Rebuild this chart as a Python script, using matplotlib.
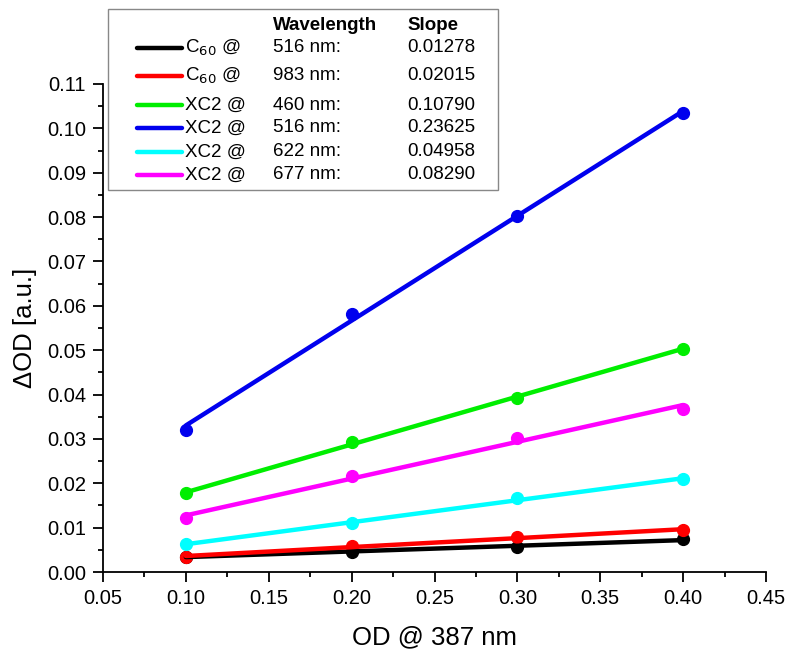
import numpy as np
import matplotlib.pyplot as plt
from matplotlib.lines import Line2D
from matplotlib.patches import Rectangle
from matplotlib.ticker import MultipleLocator, FormatStrFormatter

plt.rcParams['font.family'] = ['Liberation Sans', 'DejaVu Sans']

# OD of the pump at 387 nm
od = [0.1, 0.2, 0.3, 0.4]

# measured ΔOD for each probe wavelength
c60_516 = [0.0034, 0.0046, 0.0057, 0.0074]
c60_983 = [0.0033, 0.0059, 0.0078, 0.0095]
xc2_460 = [0.0178, 0.0292, 0.0393, 0.0503]
xc2_516 = [0.0320, 0.0582, 0.0803, 0.1034]
xc2_622 = [0.0063, 0.0110, 0.0166, 0.0209]
xc2_677 = [0.0121, 0.0217, 0.0302, 0.0368]

species = [r'C$_{60}$ @', r'C$_{60}$ @', 'XC2 @', 'XC2 @', 'XC2 @', 'XC2 @']
wavelengths = ['516 nm:', '983 nm:', '460 nm:', '516 nm:', '622 nm:', '677 nm:']
slopes = [0.01278, 0.02015, 0.10790, 0.23625, 0.04958, 0.08290]
colors = ['#000000', '#ff0000', '#00ee00', '#0000ee', '#00ffff', '#ff00ff']
series = [c60_516, c60_983, xc2_460, xc2_516, xc2_622, xc2_677]

W, H = 793, 657
fig = plt.figure(figsize=(W / 100, H / 100), dpi=100)
ax = fig.add_axes([103 / W, 1 - 572 / H, (766 - 103) / W, (572 - 84) / H])

x = np.array(od)
xfit = np.array([x.min(), x.max()])
for y, s, c in zip(series, slopes, colors):
    y = np.array(y)
    # linear fit with the reported slope, passing through the data centroid
    b = y.mean() - s * x.mean()
    ax.plot(x, y, 'o', color=c, markersize=8.5, zorder=3)
    ax.plot(xfit, s * xfit + b, '-', color=c, lw=3.2, zorder=4, solid_capstyle='round')

ax.set_xlim(0.05, 0.45)
ax.set_ylim(0.0, 0.11)
ax.xaxis.set_major_locator(MultipleLocator(0.05))
ax.xaxis.set_minor_locator(MultipleLocator(0.025))
ax.yaxis.set_major_locator(MultipleLocator(0.01))
ax.yaxis.set_minor_locator(MultipleLocator(0.005))
ax.xaxis.set_major_formatter(FormatStrFormatter('%.2f'))
ax.yaxis.set_major_formatter(FormatStrFormatter('%.2f'))

for side in ['top', 'right']:
    ax.spines[side].set_visible(False)
for side in ['left', 'bottom']:
    ax.spines[side].set_linewidth(1.3)
ax.tick_params(which='major', direction='out', length=7.2, width=1.3, labelsize=14.5, pad=5)
ax.tick_params(which='minor', direction='out', length=3.6, width=1.3)

ax.set_xlabel('OD @ 387 nm', fontsize=18.5, va='center')
ax.xaxis.set_label_coords(0.5, -(637 - 572) / 488)
ax.set_ylabel('ΔOD [a.u.]', fontsize=18.5, va='center')
ax.yaxis.set_label_coords(-(103 - 25) / 663, 0.5)


def fx(px):
    return px / W


def fy(py):
    return 1 - py / H


# legend table
fig.patches.append(Rectangle((fx(108), fy(190)), fx(498) - fx(108), fy(9) - fy(190),
                             transform=fig.transFigure, fill=False,
                             edgecolor='#888888', lw=1.0, zorder=5))
fig.text(fx(273), fy(25), 'Wavelength', fontsize=13.5, fontweight='bold', va='center')
fig.text(fx(407), fy(25), 'Slope', fontsize=13.5, fontweight='bold', va='center')

row_y = [48, 76, 105, 128, 152, 175]
for ry, sp, wl, s, c in zip(row_y, species, wavelengths, slopes, colors):
    fig.lines.append(Line2D([fx(137), fx(182)], [fy(ry), fy(ry)], color=c, lw=3.2,
                            solid_capstyle='round', transform=fig.transFigure))
    fig.text(fx(185), fy(ry), sp, fontsize=13.5, va='center')
    fig.text(fx(273), fy(ry), wl, fontsize=13.5, va='center')
    fig.text(fx(407), fy(ry), f'{s:.5f}', fontsize=13.5, va='center')

fig.savefig('out.png', dpi=100)
